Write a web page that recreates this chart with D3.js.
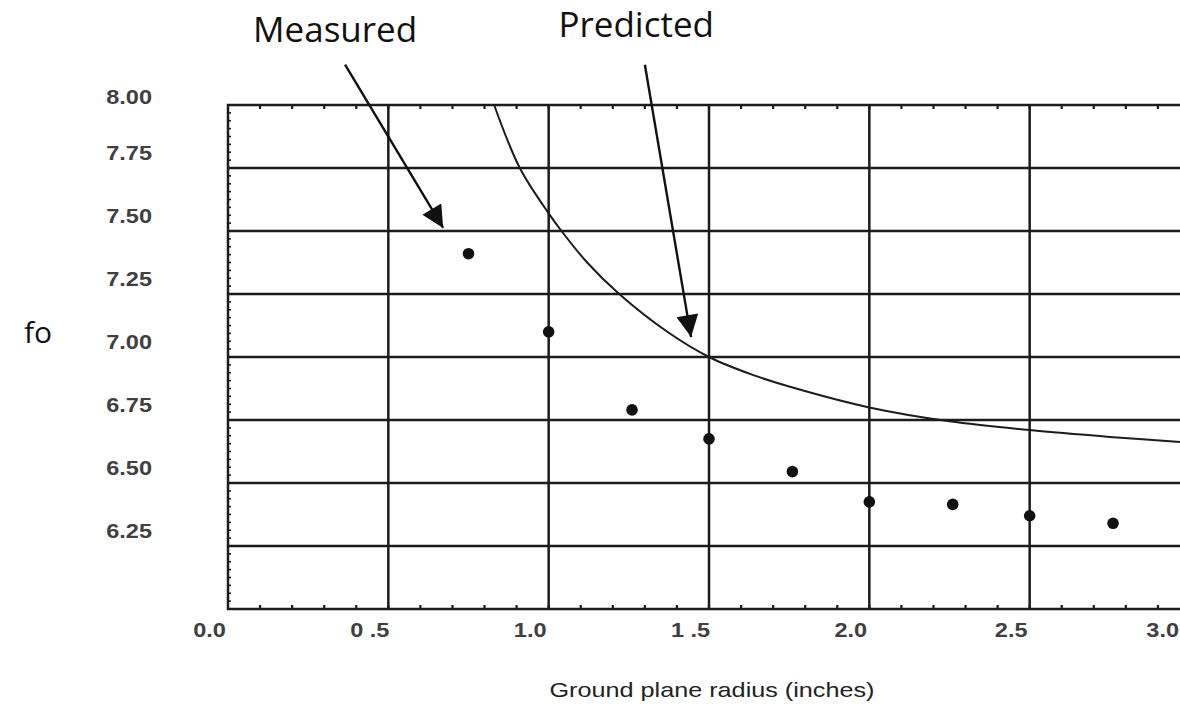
<!DOCTYPE html>
<html>
<head>
<meta charset="utf-8">
<script src="https://cdn.jsdelivr.net/npm/d3@7"></script>
<style>
  html, body { margin: 0; padding: 0; background: #fff; }
  svg { display: block; }
</style>
</head>
<body>
<svg id="chart" width="1180" height="706"></svg>
<script>
// ---- data ----
const xTickValues = [0, 0.5, 1.0, 1.5, 2.0, 2.5, 3.0];
const xTickLabels = ["0.0", "0 .5", "1.0", "1 .5", "2.0", "2.5", "3.0"];
const yTickValues = [8.00, 7.75, 7.50, 7.25, 7.00, 6.75, 6.50, 6.25];
const yTickLabels = ["8.00", "7.75", "7.50", "7.25", "7.00", "6.75", "6.50", "6.25"];

const measuredX = [0.75, 1.00, 1.26, 1.50, 1.76, 2.00, 2.26, 2.50, 2.76];
const measuredY = [7.41, 7.10, 6.79, 6.675, 6.545, 6.425, 6.415, 6.37, 6.34];

const predictedX = [0.83, 0.91, 1.00, 1.04, 1.12, 1.22, 1.37, 1.50, 1.63, 1.75, 2.00, 2.25, 2.50, 2.75, 3.00];
const predictedY = [8.00, 7.75, 7.57, 7.50, 7.375, 7.25, 7.10, 7.00, 6.932, 6.883, 6.80, 6.745, 6.71, 6.683, 6.66];

const annotationText = ["Measured", "Predicted"];
const annotationLabelX = [0.334, 1.273];
const annotationLabelY = [8.30, 8.32];
const arrowStartX = [0.365, 1.30];
const arrowStartY = [8.16, 8.16];
const arrowTipX = [0.671, 1.444];
const arrowTipY = [7.512, 7.079];

const xTitle = "Ground plane radius (inches)";
const yTitle = "fo";

// ---- layout ----
const W = 1180;
const svg = d3.select("#chart");
const x = d3.scaleLinear().domain([0, 3]).range([228, 1190]);
const y = d3.scaleLinear().domain([6, 8]).range([609, 105]);
const ink = "#1c1c1c";

function stretchText(sel, factor) {
  sel.each(function () {
    const len = this.getComputedTextLength();
    d3.select(this).attr("textLength", len * factor).attr("lengthAdjust", "spacingAndGlyphs");
  });
}

// minor ticks (inward) along borders
const g = svg.append("g");
const minorX = d3.range(1, 30).map(i => i * 0.1);
g.selectAll("line.tt").data(minorX).join("line")
  .attr("x1", d => x(d)).attr("x2", d => x(d))
  .attr("y1", y(8)).attr("y2", y(8) + 4)
  .attr("stroke", ink).attr("stroke-width", 2.2);
g.selectAll("line.bt").data(minorX).join("line")
  .attr("x1", d => x(d)).attr("x2", d => x(d))
  .attr("y1", y(6)).attr("y2", y(6) - 4)
  .attr("stroke", ink).attr("stroke-width", 2.2);
const minorY = d3.range(1, 64).map(i => 6 + i * 0.03125);
g.selectAll("line.lt").data(minorY).join("line")
  .attr("x1", x(0)).attr("x2", x(0) + 3)
  .attr("y1", d => y(d)).attr("y2", d => y(d))
  .attr("stroke", ink).attr("stroke-width", 1.6);

// grid lines
g.selectAll("line.hg").data(yTickValues.slice(1)).join("line")
  .attr("x1", x(0)).attr("x2", x(3))
  .attr("y1", d => y(d)).attr("y2", d => y(d))
  .attr("stroke", ink).attr("stroke-width", 2.5);
g.selectAll("line.vg").data(xTickValues.slice(1)).join("line")
  .attr("x1", d => x(d)).attr("x2", d => x(d))
  .attr("y1", y(8)).attr("y2", y(6))
  .attr("stroke", ink).attr("stroke-width", 2.5);

// border (left, top, bottom)
g.append("path")
  .attr("d", `M${x(3)},${y(8)}H${x(0)}V${y(6)}H${x(3)}`)
  .attr("fill", "none").attr("stroke", ink).attr("stroke-width", 2.5);

// axes labels
const xAxis = d3.axisBottom(x).tickValues(xTickValues)
  .tickFormat((d, i) => xTickLabels[i]).tickSize(0).tickPadding(13);
const gx = svg.append("g").attr("transform", `translate(0,${y(6)})`).call(xAxis);
gx.select(".domain").remove();
gx.selectAll("text")
  .attr("dx", -19)
  .attr("font-family", "'Liberation Sans', Arial, sans-serif")
  .attr("font-size", 21).attr("font-weight", "bold").attr("fill", "#404040")
  .call(stretchText, 1.12);
// keep the last label fully inside the picture
gx.selectAll("text").each(function () {
  const b = this.getBBox();
  const t = d3.select(this.parentNode).attr("transform");
  const tx = +/translate\(([-\d.]+)/.exec(t)[1];
  const over = tx + b.x + b.width - (W - 1);
  if (over > 0) d3.select(this).attr("dx", -19 - over);
});

const yAxis = d3.axisLeft(y).tickValues(yTickValues)
  .tickFormat((d, i) => yTickLabels[i]).tickSize(0).tickPadding(76);
const gy = svg.append("g").attr("transform", `translate(${x(0)},0)`).call(yAxis);
gy.select(".domain").remove();
gy.selectAll("text")
  .attr("y", (d, i) => i === 0 ? -8 : -15)
  .attr("font-family", "'Liberation Sans', Arial, sans-serif")
  .attr("font-size", 21).attr("font-weight", "bold").attr("fill", "#404040")
  .call(stretchText, 1.12);

// predicted curve
const predicted = predictedX.map((d, i) => [d, predictedY[i]]);
svg.append("path")
  .datum(predicted)
  .attr("d", d3.line().x(d => x(d[0])).y(d => y(d[1])).curve(d3.curveCatmullRom.alpha(0.5)))
  .attr("fill", "none").attr("stroke", ink).attr("stroke-width", 2);

// measured points
const measured = measuredX.map((d, i) => [d, measuredY[i]]);
svg.selectAll("circle.m").data(measured).join("circle")
  .attr("cx", d => x(d[0])).attr("cy", d => y(d[1])).attr("r", 5.8)
  .attr("fill", "#111");

// annotations
svg.append("defs").append("marker")
  .attr("id", "arrow").attr("viewBox", "0 0 10 10")
  .attr("refX", 10).attr("refY", 5)
  .attr("markerWidth", 24).attr("markerHeight", 22)
  .attr("markerUnits", "userSpaceOnUse")
  .attr("orient", "auto")
  .append("path").attr("d", "M0,0L10,5L0,10Z").attr("fill", "#111");

annotationText.forEach((t, i) => {
  svg.append("line")
    .attr("x1", x(arrowStartX[i])).attr("y1", y(arrowStartY[i]))
    .attr("x2", x(arrowTipX[i])).attr("y2", y(arrowTipY[i]))
    .attr("stroke", "#111").attr("stroke-width", 2.4)
    .attr("marker-end", "url(#arrow)");
  svg.append("text")
    .attr("x", x(annotationLabelX[i])).attr("y", y(annotationLabelY[i]))
    .attr("dy", "0.35em")
    .attr("text-anchor", "middle")
    .attr("font-family", "'Open Sans', sans-serif")
    .attr("font-size", 35).attr("fill", "#111")
    .text(t);
});

// titles
svg.append("text")
  .attr("x", 712).attr("y", 697)
  .attr("text-anchor", "middle")
  .attr("font-family", "'Liberation Sans', Arial, sans-serif")
  .attr("font-size", 21).attr("fill", "#222")
  .text(xTitle)
  .call(stretchText, 1.2);

svg.append("text")
  .attr("x", 24).attr("y", 343)
  .attr("font-family", "'Open Sans', sans-serif")
  .attr("font-size", 30).attr("fill", "#111")
  .text(yTitle);
</script>
</body>
</html>
